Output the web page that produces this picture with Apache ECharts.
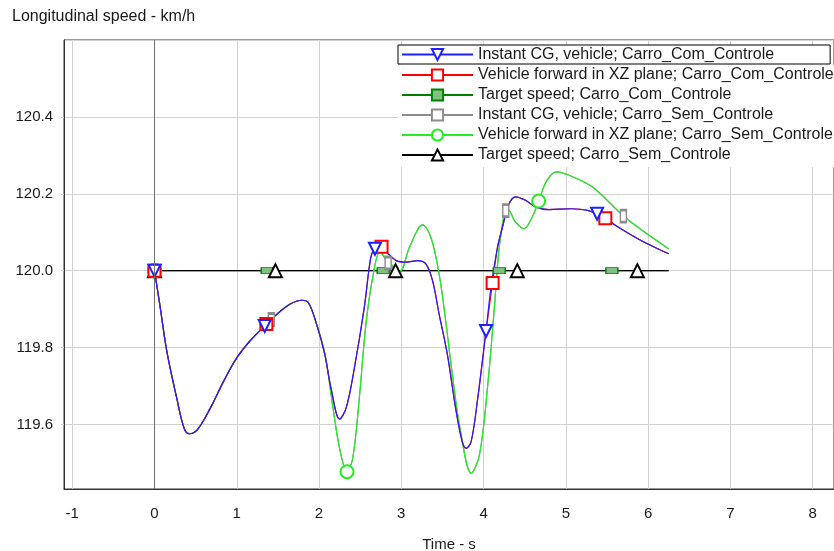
<!DOCTYPE html>
<html>
<head>
<meta charset="utf-8">
<script src="https://cdn.jsdelivr.net/npm/echarts@6/dist/echarts.min.js"></script>
<style>
html, body { margin: 0; padding: 0; background: #fff; }
#chart { width: 834px; height: 551px; }
</style>
</head>
<body>
<div id="chart"></div>
<script>
// Instant CG, vehicle; Carro_Com_Controle
var comCgT = [0, 0.07, 0.15, 0.27, 0.36, 0.42, 0.52, 0.68, 0.84, 1.00,
    1.16, 1.34, 1.49, 1.65, 1.79, 1.87, 1.97, 2.07, 2.15, 2.25,
    2.33, 2.43, 2.55, 2.63, 2.68, 2.74, 2.82, 2.94, 3.06, 3.20,
    3.30, 3.38, 3.46, 3.56, 3.66, 3.74, 3.79, 3.85, 3.93, 4.03,
    4.09, 4.17, 4.23, 4.31, 4.39, 4.51, 4.63, 4.79, 5.07, 5.26,
    5.38, 5.64, 5.92, 6.25];
var comCgV = [120.0, 119.904, 119.79, 119.669, 119.59, 119.576, 119.586, 119.643, 119.712, 119.773,
    119.817, 119.856, 119.887, 119.913, 119.923, 119.917, 119.861, 119.782, 119.690, 119.614,
    119.643, 119.747, 119.904, 120.035, 120.057, 120.060, 120.048, 120.026, 120.022, 120.026,
    120.017, 119.974, 119.887, 119.782, 119.643, 119.556, 119.538, 119.556, 119.669, 119.843,
    119.956, 120.061, 120.113, 120.174, 120.192, 120.183, 120.166, 120.159, 120.161, 120.157,
    120.148, 120.113, 120.078, 120.044];
var comCgMarks = [0, 1.34, 2.68, 4.03, 5.38];

// Vehicle forward in XZ plane; Carro_Com_Controle
var comFwdT = [0, 0.07, 0.15, 0.27, 0.36, 0.42, 0.52, 0.68, 0.84, 1.00,
    1.16, 1.36, 1.49, 1.65, 1.79, 1.87, 1.97, 2.07, 2.15, 2.25,
    2.33, 2.43, 2.55, 2.63, 2.68, 2.76, 2.82, 2.94, 3.06, 3.20,
    3.30, 3.38, 3.46, 3.56, 3.66, 3.74, 3.79, 3.85, 3.93, 4.03,
    4.11, 4.17, 4.23, 4.31, 4.39, 4.51, 4.63, 4.79, 5.07, 5.26,
    5.48, 5.64, 5.92, 6.25];
var comFwdV = [120.0, 119.904, 119.79, 119.669, 119.59, 119.576, 119.586, 119.643, 119.712, 119.773,
    119.817, 119.861, 119.887, 119.913, 119.923, 119.917, 119.861, 119.782, 119.690, 119.614,
    119.643, 119.747, 119.904, 120.035, 120.057, 120.062, 120.048, 120.026, 120.022, 120.026,
    120.017, 119.974, 119.887, 119.782, 119.643, 119.556, 119.538, 119.556, 119.669, 119.843,
    119.968, 120.061, 120.113, 120.174, 120.192, 120.183, 120.166, 120.159, 120.161, 120.157,
    120.136, 120.113, 120.078, 120.044];
var comFwdMarks = [0, 1.36, 2.76, 4.11, 5.48];

// Target speed; Carro_Com_Controle
var comTargetT = [0, 1.37, 2.78, 4.19, 5.56, 6.25];
var comTargetV = [120, 120, 120, 120, 120, 120];
var comTargetMarks = [0, 1.37, 2.78, 4.19, 5.56];

// Instant CG, vehicle; Carro_Sem_Controle
var semCgT = [0, 0.07, 0.15, 0.27, 0.36, 0.42, 0.52, 0.68, 0.84, 1.00,
    1.16, 1.42, 1.49, 1.65, 1.79, 1.87, 1.97, 2.07, 2.17, 2.25,
    2.34, 2.41, 2.49, 2.57, 2.66, 2.74, 2.84, 2.98, 3.10, 3.26,
    3.36, 3.46, 3.54, 3.62, 3.72, 3.85, 3.95, 4.05, 4.13, 4.19,
    4.27, 4.29, 4.39, 4.49, 4.59, 4.67, 4.77, 4.89, 5.04, 5.32,
    5.70, 5.96, 6.25];
var semCgV = [120.0, 119.904, 119.79, 119.669, 119.59, 119.576, 119.586, 119.643, 119.712, 119.773,
    119.817, 119.873, 119.887, 119.913, 119.923, 119.917, 119.861, 119.785, 119.643, 119.538,
    119.477, 119.512, 119.669, 119.861, 119.991, 120.048, 120.020, 119.998, 120.061, 120.119,
    120.087, 119.991, 119.869, 119.730, 119.582, 119.473, 119.521, 119.700, 119.900, 120.060,
    120.156, 120.161, 120.126, 120.109, 120.139, 120.181, 120.235, 120.257, 120.248, 120.218,
    120.142, 120.100, 120.057];
var semCgMarks = [0, 1.42, 2.84, 4.27, 5.70];

// Vehicle forward in XZ plane; Carro_Sem_Controle
var semFwdT = [0, 0.07, 0.15, 0.27, 0.36, 0.42, 0.52, 0.68, 0.84, 1.00,
    1.16, 1.34, 1.49, 1.65, 1.79, 1.87, 1.97, 2.07, 2.17, 2.25,
    2.34, 2.41, 2.49, 2.57, 2.66, 2.74, 2.84, 2.98, 3.10, 3.26,
    3.36, 3.46, 3.54, 3.62, 3.72, 3.85, 3.95, 4.05, 4.13, 4.19,
    4.25, 4.29, 4.39, 4.49, 4.59, 4.67, 4.77, 4.89, 5.04, 5.32,
    5.72, 5.96, 6.25];
var semFwdV = [120.0, 119.904, 119.79, 119.669, 119.59, 119.576, 119.586, 119.643, 119.712, 119.773,
    119.817, 119.856, 119.887, 119.913, 119.923, 119.917, 119.861, 119.785, 119.643, 119.538,
    119.477, 119.512, 119.669, 119.861, 119.991, 120.048, 120.026, 119.998, 120.061, 120.119,
    120.087, 119.991, 119.869, 119.730, 119.582, 119.473, 119.521, 119.700, 119.900, 120.060,
    120.148, 120.161, 120.126, 120.109, 120.139, 120.181, 120.235, 120.257, 120.248, 120.218,
    120.139, 120.100, 120.057];
var semFwdMarks = [0, 2.34, 4.67];

// Target speed; Carro_Sem_Controle
var semTargetT = [0, 1.47, 2.93, 4.41, 5.87, 6.25];
var semTargetV = [120, 120, 120, 120, 120, 120];
var semTargetMarks = [0, 1.47, 2.93, 4.41, 5.87];

var seriesNames = [
    'Instant CG, vehicle; Carro_Com_Controle',
    'Vehicle forward in XZ plane; Carro_Com_Controle',
    'Target speed; Carro_Com_Controle',
    'Instant CG, vehicle; Carro_Sem_Controle',
    'Vehicle forward in XZ plane; Carro_Sem_Controle',
    'Target speed; Carro_Sem_Controle'
];

var FONT = 'Liberation Sans, Arial, sans-serif';

// only the marked samples get a symbol, the rest are plain line
function buildData(ts, vs, marks) {
    var data = [];
    for (var i = 0; i < ts.length; i++) {
        var item = { value: [ts[i], vs[i]] };
        if (marks.indexOf(ts[i]) < 0) item.symbol = 'none';
        data.push(item);
    }
    return data;
}

function lineSeries(name, color, ts, vs, marks, symbol, size, extra) {
    var s = {
        name: name,
        type: 'line',
        data: buildData(ts, vs, marks),
        smooth: 0.35,
        showSymbol: true,
        symbol: symbol,
        symbolSize: size,
        color: color,
        lineStyle: { color: color, width: 1.2 },
        itemStyle: { color: color, borderWidth: 1 },
        emphasis: { disabled: true },
        animation: false
    };
    for (var k in extra) s[k] = extra[k];
    return s;
}

var chart = echarts.init(document.getElementById('chart'));

var option = {
    backgroundColor: '#fff',
    animation: false,
    title: {
        text: 'Longitudinal speed - km/h',
        left: 7,
        top: 4,
        textStyle: { fontSize: 16, fontWeight: 'normal', color: '#1a1a1a', fontFamily: FONT }
    },
    legend: [{
        data: [seriesNames[0]],
        orient: 'vertical',
        left: 398,
        top: 45,
        itemWidth: 71,
        itemHeight: 14,
        itemGap: 0,
        padding: [0, 56, 0, 3],
        borderColor: '#000',
        borderWidth: 1,
        backgroundColor: '#fff',
        textStyle: { fontSize: 16, lineHeight: 19, color: '#1a1a1a', fontFamily: FONT }
    }, {
        data: seriesNames.slice(1),
        orient: 'vertical',
        left: 398,
        top: 65,
        itemWidth: 71,
        itemHeight: 14,
        itemGap: 0,
        padding: [0, 3, 2, 3],
        backgroundColor: '#fff',
        textStyle: { fontSize: 16, lineHeight: 20, color: '#1a1a1a', fontFamily: FONT }
    }],
    grid: {
        left: 64,
        top: 40,
        right: 0,
        bottom: 62,
        outerBoundsMode: 'none',
        show: true,
        borderColor: '#333',
        borderWidth: 1
    },
    xAxis: {
        type: 'value',
        min: -1.1,
        max: 8.26,
        splitNumber: 9,
        name: 'Time - s',
        nameLocation: 'middle',
        nameGap: 48,
        nameTextStyle: { fontSize: 15, color: '#1a1a1a', fontFamily: FONT },
        axisLine: { show: true, onZero: false, lineStyle: { color: '#333' } },
        axisTick: { show: false },
        splitLine: { show: true, lineStyle: { color: '#d2d2d2', width: 1 } },
        axisLabel: {
            showMinLabel: false,
            showMaxLabel: false,
            margin: 17,
            fontSize: 15,
            color: '#1a1a1a',
            fontFamily: FONT
        }
    },
    yAxis: {
        type: 'value',
        min: 119.432,
        max: 120.6,
        splitNumber: 6,
        axisLine: { show: true, onZero: false, lineStyle: { color: '#333' } },
        axisTick: { show: true, length: 3, lineStyle: { color: '#d2d2d2' } },
        splitLine: { show: true, lineStyle: { color: '#d2d2d2', width: 1 } },
        axisLabel: {
            showMinLabel: false,
            showMaxLabel: false,
            margin: 11,
            fontSize: 15,
            color: '#1a1a1a',
            fontFamily: FONT,
            formatter: function (v) { return v.toFixed(1); }
        }
    },
    series: [
        lineSeries(seriesNames[2], '#008000', comTargetT, comTargetV, comTargetMarks, 'rect', [12, 6], {
            itemStyle: { color: '#80c080', borderColor: '#008000', borderWidth: 1 },
            markLine: {
                silent: true,
                symbol: 'none',
                label: { show: false },
                lineStyle: { color: '#6e6e6e', type: 'solid', width: 1 },
                data: [{ xAxis: 0 }]
            }
        }),
        lineSeries(seriesNames[5], '#000000', semTargetT, semTargetV, semTargetMarks, 'emptyTriangle', 13),
        lineSeries(seriesNames[3], '#8c8c8c', semCgT, semCgV, semCgMarks, 'emptyRect', [6, 12]),
        lineSeries(seriesNames[4], '#22ee22', semFwdT, semFwdV, semFwdMarks, 'emptyCircle', 13),
        lineSeries(seriesNames[1], '#ff0000', comFwdT, comFwdV, comFwdMarks, 'emptyRect', 12),
        lineSeries(seriesNames[0], '#2020ff', comCgT, comCgV, comCgMarks, 'emptyTriangle', 12, { symbolRotate: 180 })
    ]
};

chart.setOption(option);
</script>
</body>
</html>
